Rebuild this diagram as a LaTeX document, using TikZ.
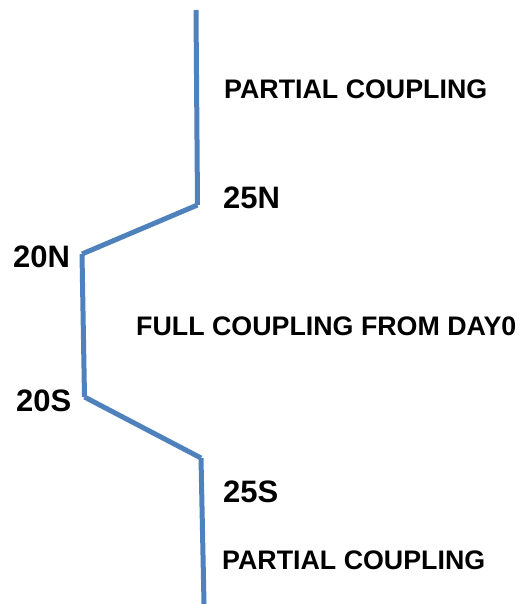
\documentclass[tikz,border=0pt]{standalone}
\usepackage{fontspec}
\setmainfont{Liberation Sans}
\definecolor{lineblue}{HTML}{4F81BD}
\begin{document}
\begin{tikzpicture}[x=1pt,y=-1pt,
  seg/.style={draw=lineblue,line width=5pt},
  lbl/.style={anchor=base west,inner sep=0pt,font=\fontsize{31}{36}\selectfont\bfseries},
  txt/.style={anchor=base west,inner sep=0pt,font=\fontsize{26.8}{31}\selectfont\bfseries}]
\useasboundingbox (0,0) rectangle (522,604);
\coordinate (a) at (196,10);
\coordinate (b) at (197.5,205);
\coordinate (c) at (82,254);
\coordinate (d) at (84.5,397);
\coordinate (e) at (201,458);
\coordinate (f) at (204,604);
\draw[seg] (a) -- (b);
\draw[seg] (b) -- (c);
\draw[seg] (c) -- (d);
\draw[seg] (d) -- (e);
\draw[seg] (e) -- (f);
\node[txt] (p1) at (224,99) {PARTIAL COUPLING};
\node[lbl] (n25) at (223,208) {25N};
\node[lbl] (n20) at (13,267) {20N};
\node[txt] (full) at (136,335) {FULL COUPLING FROM DAY0};
\node[lbl] (s20) at (16,411) {20S};
\node[lbl] (s25) at (223,502) {25S};
\node[txt] (p2) at (222,569) {PARTIAL COUPLING};
\end{tikzpicture}
\end{document}
